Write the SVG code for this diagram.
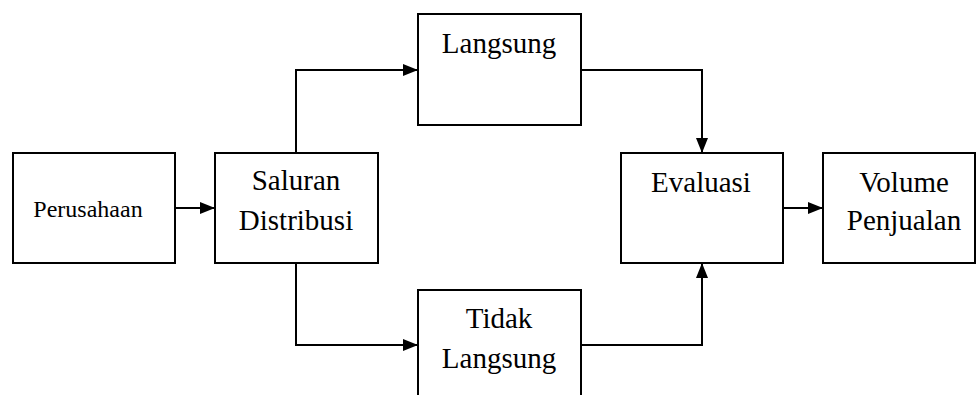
<svg xmlns="http://www.w3.org/2000/svg" width="976" height="395" viewBox="0 0 976 395">
<defs>
<marker id="ah" markerWidth="15" markerHeight="12" refX="15" refY="6" orient="auto" markerUnits="userSpaceOnUse">
<path d="M0,0 L15,6 L0,12 Z" fill="#000"/>
</marker>
<style>
.box{fill:#fff;stroke:#000;stroke-width:2}
.ln{fill:none;stroke:#000;stroke-width:2;marker-end:url(#ah)}
text{font-family:"Liberation Serif","Times New Roman",serif;fill:#000;text-anchor:middle;font-size:29px}
.sm{font-size:24px}
</style>
</defs>
<rect width="976" height="395" fill="#fff"/>
<g id="connectors">
<path class="ln" d="M175,208 H215"/>
<path class="ln" d="M296,153 V70 H418"/>
<path class="ln" d="M296,263 V345 H418"/>
<path class="ln" d="M581,70 H702 V153"/>
<path class="ln" d="M581,345 H702 V263"/>
<path class="ln" d="M783,208 H823"/>
</g>
<g id="perusahaan"><rect class="box" x="13" y="153" width="162" height="110"/><text class="sm" x="88" y="217">Perusahaan</text></g>
<g id="saluran"><rect class="box" x="215" y="153" width="163" height="110"/><text x="296" y="190">Saluran</text><text x="296" y="230">Distribusi</text></g>
<g id="langsung"><rect class="box" x="418" y="14" width="163" height="111"/><text x="499" y="53">Langsung</text></g>
<g id="tidak"><rect class="box" x="418" y="290" width="163" height="120"/><text x="499" y="328">Tidak</text><text x="499" y="368">Langsung</text></g>
<g id="evaluasi"><rect class="box" x="621" y="153" width="162" height="110"/><text x="701" y="192">Evaluasi</text></g>
<g id="volume"><rect class="box" x="823" y="153" width="152" height="110"/><text x="904" y="192">Volume</text><text x="904" y="230">Penjualan</text></g>
</svg>
